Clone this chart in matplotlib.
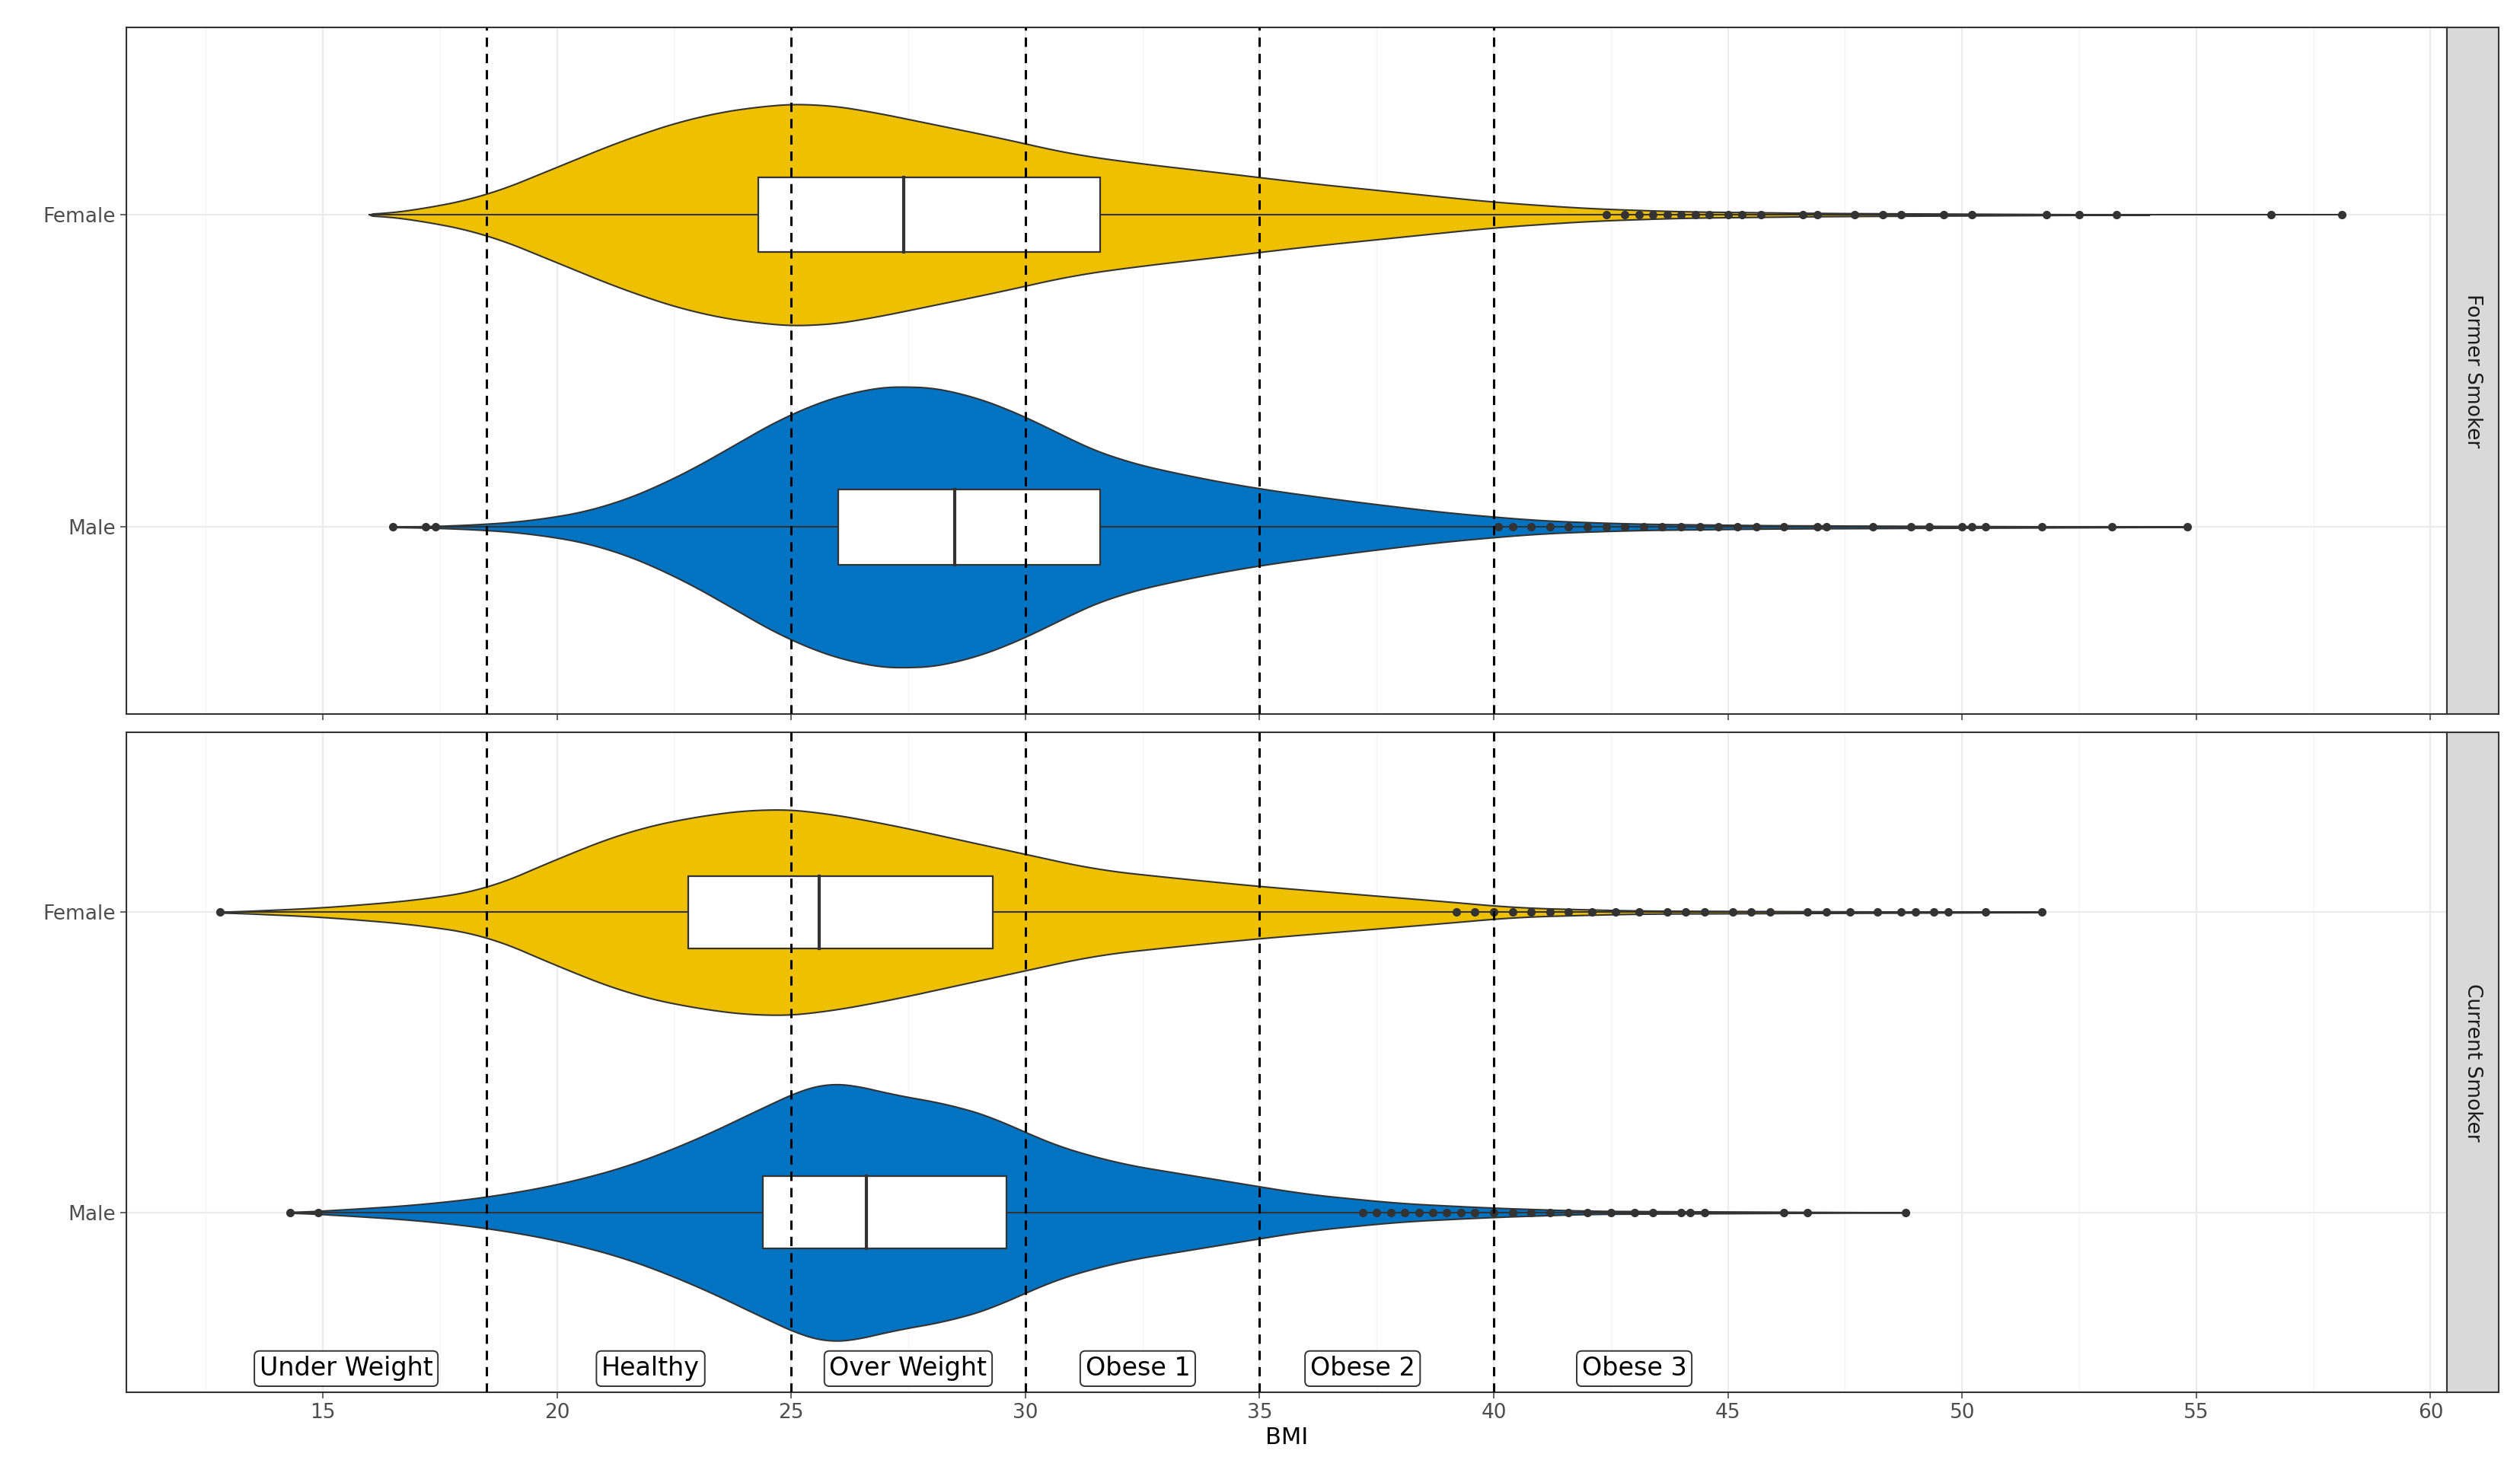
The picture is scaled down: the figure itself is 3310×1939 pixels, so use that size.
import numpy as np
import matplotlib
matplotlib.use("Agg")
import matplotlib.pyplot as plt

YELLOW, BLUE = "#EFC000", "#0073C2"
PX = 196.0  # pixels per category unit in the reference

panels = ["Former Smoker", "Current Smoker"]
groups = ["Male", "Female"]

# violin half-widths (reference pixels) at BMI positions
viol = {
    ("Former Smoker", "Female"): (
        [16, 17, 18.5, 20, 21.5, 23, 24.5, 25.5, 26.5, 28, 29.5, 31, 32.5, 34, 36, 38, 40, 42, 44, 47, 54],
        [0, 3, 12, 30, 48, 62, 69, 70, 66, 57, 48, 38, 32, 27, 20, 14, 8, 4, 2, 1, 0]),
    ("Former Smoker", "Male"): (
        [16.5, 18, 19.5, 21, 22.5, 24, 25, 26.5, 27.5, 28.5, 30, 31, 32, 33.5, 35, 37, 39, 41, 43, 46, 54.8],
        [0, 1, 4, 12, 30, 55, 72, 87, 89, 86, 70, 54, 42, 32, 24, 16, 9, 4, 2, 1, 0]),
    ("Current Smoker", "Female"): (
        [12.8, 15, 17, 18.5, 20, 21.5, 23, 24.5, 25.5, 27, 28.5, 30, 31.5, 33, 35, 37, 39, 40.5, 43, 51.7],
        [0, 3, 8, 15, 35, 53, 63, 68, 66, 58, 48, 38, 28, 23, 17, 12, 7, 3, 1, 0]),
    ("Current Smoker", "Male"): (
        [14.3, 15.5, 17, 18.5, 20, 21.5, 23, 24.5, 25.5, 26, 27, 28.5, 29.5, 30.5, 32, 34, 36, 38, 40, 42, 48.8],
        [0, 2, 5, 10, 18, 30, 48, 70, 84, 86, 78, 70, 60, 45, 32, 22, 12, 6, 3, 1, 0]),
}

# box stats: q1, median, q3
boxes = {
    ("Former Smoker", "Female"): (24.3, 27.4, 31.6),
    ("Former Smoker", "Male"): (26.0, 28.5, 31.6),
    ("Current Smoker", "Female"): (22.8, 25.6, 29.3),
    ("Current Smoker", "Male"): (24.4, 26.6, 29.6),
}

outliers = {
    ("Former Smoker", "Female"): [42.4, 42.8, 43.1, 43.4, 43.7, 44.0, 44.3, 44.6, 45.0, 45.3, 45.7, 46.6, 46.9, 47.7,
                                  48.3, 48.7, 49.6, 50.2, 51.8, 52.5, 53.3, 56.6, 58.1],
    ("Former Smoker", "Male"): [16.5, 17.2, 17.4, 40.1, 40.4, 40.8, 41.2, 41.6, 42.0, 42.4, 42.8, 43.2, 43.6, 44.0,
                                44.4, 44.8, 45.2, 45.6, 46.2, 46.9, 47.1, 48.1, 48.9, 49.3, 50.0, 50.2, 50.5,
                                51.7, 53.2, 54.8],
    ("Current Smoker", "Female"): [12.8, 39.2, 39.6, 40.0, 40.4, 40.8, 41.2, 41.6, 42.1, 42.6, 43.1, 43.7, 44.1,
                                   44.5, 45.1, 45.5, 45.9, 46.7, 47.1, 47.6, 48.2, 48.7, 49.0, 49.4, 49.7, 50.5,
                                   51.7],
    ("Current Smoker", "Male"): [14.3, 14.9, 37.2, 37.5, 37.8, 38.1, 38.4, 38.7, 39.0, 39.3, 39.6, 40.0, 40.4,
                                 40.8, 41.2, 41.6, 42.0, 42.5, 43.0, 43.4, 44.0, 44.2, 44.5, 46.2, 46.7, 48.8],
}

cutoffs = [18.5, 25, 30, 35, 40]
band_labels = ["Under Weight", "Healthy", "Over Weight", "Obese 1", "Obese 2", "Obese 3"]
band_x = [15.5, 22.0, 27.5, 32.4, 37.2, 43.0]


def smooth_outline(xs, hw):
    # render-only smoothing of the read-off outline
    grid = np.linspace(xs[0], xs[-1], 600)
    w = np.interp(grid, xs, hw)
    k = 25
    pad = np.concatenate([np.zeros(k), w, np.zeros(k)])
    ws = np.convolve(pad, np.ones(k) / k, mode="same")[k:-k]
    ws[0] = ws[-1] = 0
    return grid, ws


fig = plt.figure(figsize=(33.1, 19.39), dpi=100)
L, W = 0.05, 0.921
axes = [fig.add_axes([L, 0.516, W, 0.4655]),
        fig.add_axes([L, 0.0565, W, 0.4475])]

for ax, panel in zip(axes, panels):
    ax.set_xlim(10.8, 60.35)
    ax.set_ylim(0.4, 2.6)
    ax.set_xticks(range(15, 61, 5))
    ax.set_xticks(np.arange(12.5, 60.1, 2.5), minor=True)
    ax.set_yticks([1, 2], groups)
    ax.grid(True, which="major", color="#EBEBEB", lw=1.6)
    ax.grid(True, which="minor", axis="x", color="#F4F4F4", lw=0.9)
    ax.set_axisbelow(True)
    ax.tick_params(labelsize=19, colors="#4D4D4D", length=6, width=1.2, which="major")
    ax.tick_params(which="minor", length=0)
    for s in ax.spines.values():
        s.set_color("#333333"); s.set_linewidth(1.5)
    for y, g in zip([1, 2], groups):
        xs, hw = viol[(panel, g)]
        gx, gw = smooth_outline(np.array(xs, float), np.array(hw, float) / PX)
        col = YELLOW if g == "Female" else BLUE
        ax.fill_between(gx, y - gw, y + gw, color=col, ec="#333333", lw=1.5, zorder=2)
        pts = outliers[(panel, g)]
        ax.plot([min(pts[0], xs[0]), max(pts[-1], xs[-1])], [y, y], color="#333333", lw=1.5, zorder=3)
        ax.plot(pts, [y] * len(pts), "o", color="#333333", ms=7, zorder=4)
        q1, med, q3 = boxes[(panel, g)]
        ax.add_patch(plt.Rectangle((q1, y - 0.12), q3 - q1, 0.24, fc="white", ec="#333333", lw=1.6, zorder=5))
        ax.plot([med, med], [y - 0.12, y + 0.12], color="#333333", lw=3, zorder=6)
    for c in cutoffs:
        ax.axvline(c, color="black", ls=(0, (4, 3)), lw=2.2, zorder=7)
    pos = ax.get_position()
    fig.add_artist(plt.Rectangle((L + W, pos.y0), 0.0205, pos.height,
                                 transform=fig.transFigure, fc="#D9D9D9", ec="#333333", lw=1.5))
    fig.text(L + W + 0.0103, pos.y0 + pos.height / 2, panel, rotation=-90,
             ha="center", va="center", fontsize=19, color="#1A1A1A")

axes[0].tick_params(labelbottom=False)
for lab, x in zip(band_labels, band_x):
    axes[1].text(x, 0.48, lab, ha="center", va="center", fontsize=24, zorder=9,
                 bbox=dict(boxstyle="round,pad=0.2", fc="white", ec="#333333", lw=1.4))
axes[1].set_xlabel("BMI", fontsize=22, labelpad=4)

fig.savefig("out.png", dpi=100)
